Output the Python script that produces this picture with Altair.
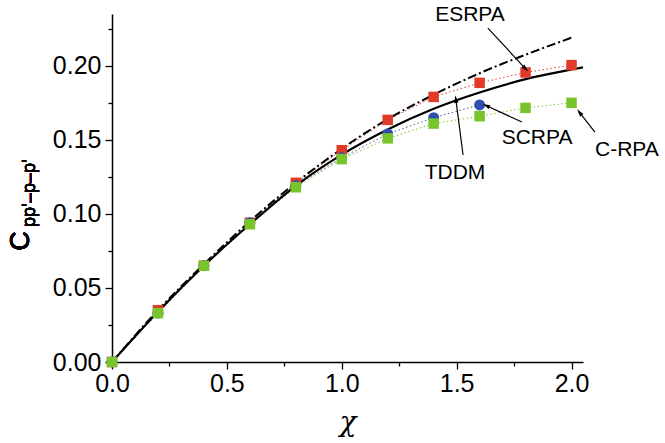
import math
import altair as alt
import pandas as pd

# ---- data ----
chi_pts = [0.0, 0.2, 0.4, 0.6, 0.8, 1.0, 1.2, 1.4, 1.6, 1.8, 2.0]
esrpa = [0.0, 0.035, 0.065, 0.094, 0.121, 0.143, 0.1635, 0.179, 0.1885, 0.1955, 0.2005]
chi_sc = [0.0, 0.2, 0.4, 0.6, 0.8, 1.0, 1.2, 1.4, 1.6]
scrpa = [0.0, 0.033, 0.065, 0.094, 0.119, 0.138, 0.154, 0.165, 0.1736]
crpa = [0.0, 0.033, 0.065, 0.093, 0.118, 0.137, 0.151, 0.161, 0.166, 0.1716, 0.175]

chi_tddm = [0.0, 0.2, 0.4, 0.6, 0.8, 1.0, 1.2, 1.4, 1.6, 1.8, 2.0, 2.05]
tddm = [0.0, 0.034, 0.065, 0.093, 0.119, 0.140, 0.157, 0.171, 0.182, 0.191, 0.1975, 0.199]
chi_dd = [0.0, 0.2, 0.4, 0.6, 0.8, 1.0, 1.2, 1.4, 1.6, 1.8, 2.0]
dashdot = [0.0, 0.035, 0.066, 0.095, 0.121, 0.144, 0.164, 0.1805, 0.195, 0.2075, 0.219]

labels = ["ESRPA", "SCRPA", "C-RPA", "TDDM"]
label_x = [1.558, 1.850, 2.241, 1.493]
label_y = [0.2343, 0.1513, 0.1432, 0.1276]
arrow_x1 = [1.636, 1.784, 2.102, 1.528]
arrow_y1 = [0.2255, 0.1621, 0.1553, 0.1398]
arrow_x2 = [1.797, 1.632, 2.037, 1.497]
arrow_y2 = [0.1985, 0.1729, 0.1681, 0.1769]

W, H = 471, 348
XD = [0, 2.05]
YD = [0, 0.235]

xs = alt.Scale(domain=XD, nice=False, zero=False)
ys = alt.Scale(domain=YD, nice=False, zero=False)

minor_x = [i * 0.25 for i in range(9)]
minor_y = [round(i * 0.025, 3) for i in range(10)]

xaxis = alt.Axis(
    values=minor_x,
    labelExpr="abs(datum.value*2 - round(datum.value*2)) < 1e-6 ? format(datum.value, '.1f') : ''",
    tickSize={"condition": {"test": "abs(datum.value*2 - round(datum.value*2)) < 1e-6", "value": 7}, "value": 4},
    title="χ", titleFont="DejaVu Serif", titleFontSize=28, titleFontWeight="normal",
    titleFontStyle="italic", titlePadding=12, labelPadding=2, labelFlush=False,
)
yaxis = alt.Axis(
    values=minor_y,
    labelExpr="abs(datum.value*20 - round(datum.value*20)) < 1e-6 ? format(datum.value, '.2f') : ''",
    tickSize={"condition": {"test": "abs(datum.value*20 - round(datum.value*20)) < 1e-6", "value": 7}, "value": 4},
    title="", labelPadding=4, labelFlush=False,
)

pts = pd.DataFrame({"x": chi_pts, "es": esrpa, "c": crpa})
sc = pd.DataFrame({"x": chi_sc, "y": scrpa})
td = pd.DataFrame({"x": chi_tddm, "y": tddm})
dd = pd.DataFrame({"x": chi_dd, "y": dashdot})


def X(field="x"):
    return alt.X(f"{field}:Q", scale=xs, axis=xaxis)


def Y(field):
    return alt.Y(f"{field}:Q", scale=ys, axis=yaxis)


red, blue, green = "#e23a28", "#2f4fae", "#78c42c"

red_line = alt.Chart(pts).mark_line(color=red, strokeWidth=1, strokeDash=[1.5, 2.5]).encode(x=X(), y=Y("es"))
blue_line = alt.Chart(sc).mark_line(color="#505a8a", strokeWidth=1, strokeDash=[1.5, 2.5]).encode(x=X(), y=Y("y"))
green_line = alt.Chart(pts).mark_line(color=green, strokeWidth=1, strokeDash=[1.5, 2.5]).encode(x=X(), y=Y("c"))

tddm_line = alt.Chart(td).mark_line(color="black", strokeWidth=2.2, interpolate="monotone").encode(x=X(), y=Y("y"))
dd_line = alt.Chart(dd).mark_line(color="black", strokeWidth=2, strokeDash=[9, 3, 2, 3],
                                  interpolate="monotone").encode(x=X(), y=Y("y"))

red_pts = alt.Chart(pts).mark_point(shape="square", filled=True, color=red, size=110, opacity=1).encode(x=X(), y=Y("es"))
blue_pts = alt.Chart(sc).mark_point(shape="circle", filled=True, color=blue, size=120, opacity=1).encode(x=X(), y=Y("y"))
green_pts = alt.Chart(pts).mark_point(shape="square", filled=True, color=green, size=110, opacity=1).encode(x=X(), y=Y("c"))

# annotations
px_per_x = W / (XD[1] - XD[0])
px_per_y = H / (YD[1] - YD[0])
angles = []
for x1, y1, x2, y2 in zip(arrow_x1, arrow_y1, arrow_x2, arrow_y2):
    dx = (x2 - x1) * px_per_x
    dy = -(y2 - y1) * px_per_y
    angles.append(math.degrees(math.atan2(dx, -dy)) % 360)

ann = pd.DataFrame({"t": labels, "tx": label_x, "ty": label_y,
                    "x1": arrow_x1, "y1": arrow_y1, "x2": arrow_x2, "y2": arrow_y2, "ang": angles})

texts = alt.Chart(ann).mark_text(font="Liberation Sans", fontSize=21, color="black").encode(
    x=X("tx"), y=Y("ty"), text="t:N")
rules = alt.Chart(ann).mark_rule(color="black", strokeWidth=1.2).encode(
    x=X("x1"), y=Y("y1"), x2="x2:Q", y2="y2:Q")
heads = alt.Chart(ann).mark_point(shape="M0,-1L0.45,0.6L-0.45,0.6Z", filled=True, color="black",
                                  size=90, opacity=1).encode(
    x=X("x2"), y=Y("y2"), angle=alt.Angle("ang:Q", scale=None))

ylab_c = alt.Chart(pts).mark_text(text="C", font="Liberation Sans", fontSize=27, angle=270,
                                  baseline="middle", align="center", color="black").encode(
    x=alt.value(-91), y=alt.value(227))
ylab_sub = alt.Chart(pts).mark_text(text="pp’–p–p’", font="Liberation Sans", fontSize=18, angle=270,
                                    baseline="middle", align="center", color="black").encode(
    x=alt.value(-82), y=alt.value(179))

chart = alt.layer(
    red_line, blue_line, green_line, dd_line, tddm_line,
    red_pts, blue_pts, green_pts, rules, heads, texts, ylab_c, ylab_sub,
).properties(
    width=W, height=H,
    autosize=alt.AutoSizeParams(type="none"),
    padding={"left": 112, "top": 14, "right": 82, "bottom": 81},
).configure_view(stroke=None).configure_axis(
    labelFont="Liberation Sans", labelFontSize=25, labelColor="black",
    domainColor="black", domainWidth=1.5, tickColor="black", tickWidth=1.3, grid=False,
)

chart.save("out.html", embed_options={"renderer": "svg", "actions": False})
